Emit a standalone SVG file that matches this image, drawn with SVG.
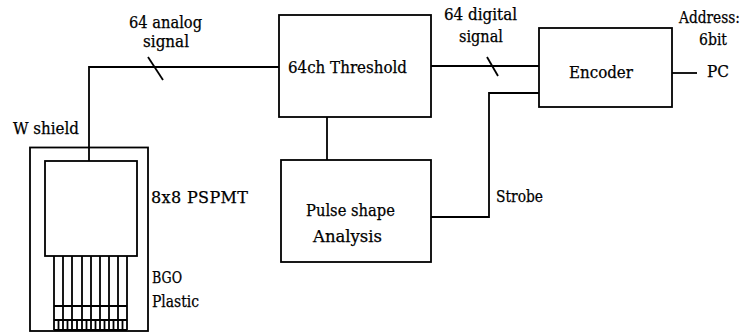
<svg xmlns="http://www.w3.org/2000/svg" width="748" height="333" viewBox="0 0 748 333">
<style>
.s{fill:none;stroke:#000;stroke-width:1.8}
text{font-family:'DejaVu Serif','Liberation Serif',serif;font-size:16px;fill:#000;stroke:#000;stroke-width:0.25}
</style>
<rect width="748" height="333" fill="#fff"/>
<g id="detector">
<rect class="s" x="30" y="147.5" width="118" height="183.5"/>
<rect class="s" x="45" y="161" width="92" height="95"/>
<path class="s" d="M54,256V330M63,256V330M72,256V330M82,256V330M91,256V330M100,256V330M109,256V330M118,256V330M127,256V330M54,306H127M54,320H127M54,330H127"/>
<path class="s" d="M58.5,320V330M67.5,320V330M77,320V330M86.5,320V330M95.5,320V330M104.5,320V330M113.5,320V330M122.5,320V330" stroke-width="1.3"/>
<text x="13" y="134" textLength="66" lengthAdjust="spacingAndGlyphs">W shield</text>
<text x="151" y="203" textLength="97" lengthAdjust="spacing">8x8 PSPMT</text>
<text x="152" y="283" font-size="17" textLength="30" lengthAdjust="spacingAndGlyphs">BGO</text>
<text x="152" y="307" font-size="17" textLength="47" lengthAdjust="spacingAndGlyphs">Plastic</text>
</g>
<g id="threshold">
<rect class="s" x="279" y="15" width="152" height="102"/>
<text x="288" y="73" textLength="119" lengthAdjust="spacingAndGlyphs">64ch Threshold</text>
</g>
<g id="pulse">
<rect class="s" x="281" y="160" width="150" height="102"/>
<text x="306" y="216" textLength="89" lengthAdjust="spacingAndGlyphs">Pulse shape</text>
<text x="313" y="242" textLength="69" lengthAdjust="spacingAndGlyphs">Analysis</text>
</g>
<g id="encoder">
<rect class="s" x="539" y="28" width="133" height="79"/>
<text x="569" y="78" textLength="64" lengthAdjust="spacingAndGlyphs">Encoder</text>
</g>
<g id="pc">
<text x="707" y="77" textLength="22" lengthAdjust="spacingAndGlyphs">PC</text>
<text x="679" y="23" font-size="14" textLength="61" lengthAdjust="spacingAndGlyphs">Address:</text>
<text x="699" y="45" textLength="28" lengthAdjust="spacingAndGlyphs">6bit</text>
</g>
<g id="connectors">
<path class="s" d="M89,161V67H279"/>
<path class="s" d="M148,57L163,80"/>
<path class="s" d="M431,66H539"/>
<path class="s" d="M487,57L498,76"/>
<path class="s" d="M327,117V160"/>
<path class="s" d="M431,217H489V93H539"/>
<path class="s" d="M672,73H697"/>
<text x="129" y="28" textLength="73" lengthAdjust="spacingAndGlyphs">64 analog</text>
<text x="143" y="47" textLength="46" lengthAdjust="spacingAndGlyphs">signal</text>
<text x="444" y="20" textLength="73" lengthAdjust="spacingAndGlyphs">64 digital</text>
<text x="459" y="42" textLength="44" lengthAdjust="spacingAndGlyphs">signal</text>
<text x="496" y="202" textLength="47" lengthAdjust="spacingAndGlyphs">Strobe</text>
</g>
</svg>
